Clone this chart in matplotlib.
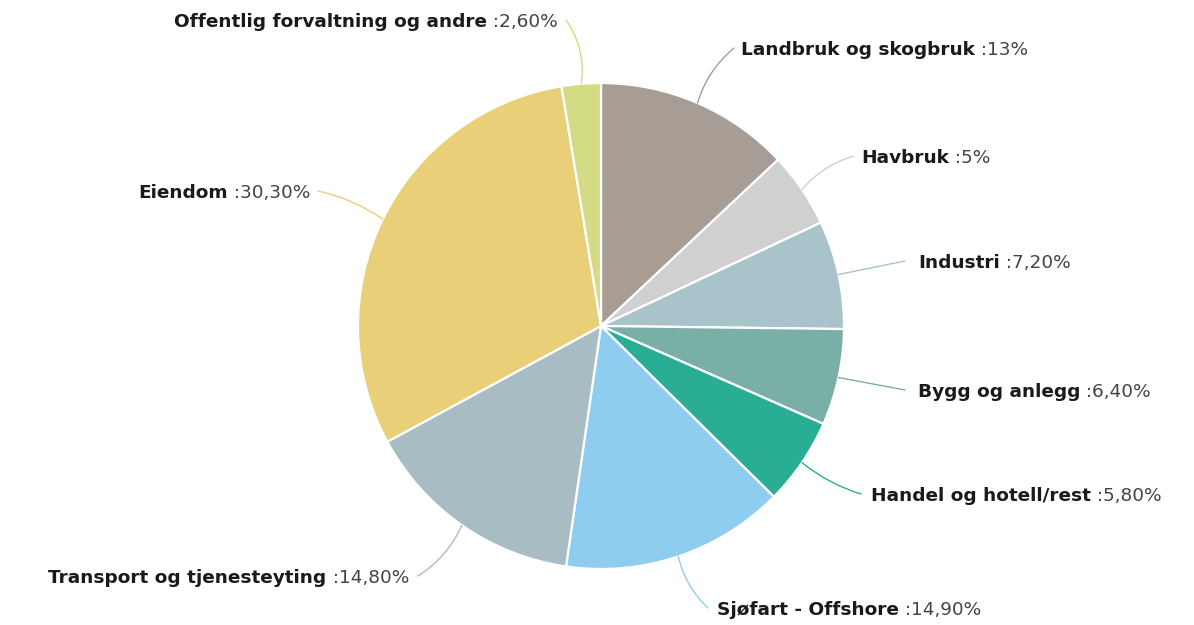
import matplotlib
matplotlib.use("Agg")
import matplotlib.pyplot as plt
import numpy as np

categories = ["Landbruk og skogbruk", "Havbruk", "Industri", "Bygg og anlegg",
              "Handel og hotell/rest", "Sjøfart - Offshore", "Transport og tjenesteyting",
              "Eiendom", "Offentlig forvaltning og andre"]
values = [13, 5, 7.2, 6.4, 5.8, 14.9, 14.8, 30.3, 2.6]
value_labels = ["13%", "5%", "7,20%", "6,40%", "5,80%", "14,90%", "14,80%", "30,30%", "2,60%"]
colors = ["#A89D94", "#D0D0D0", "#A9C3CB", "#7AAFA7", "#2AAD95", "#8FCDF0",
          "#A8BCC3", "#E8CF78", "#D3DB84"]

W, H = 1194, 625
fig = plt.figure(figsize=(W / 100, H / 100), dpi=100)
ax = fig.add_axes([0, 0, 1, 1])

cx, cy, r = 601, H - 326, 243
wedges, _ = ax.pie(values, colors=colors, startangle=90, counterclock=False,
                   center=(cx, cy), radius=r, frame=True,
                   wedgeprops=dict(edgecolor="white", linewidth=1.6))
ax.set_xlim(0, W)
ax.set_ylim(0, H)
ax.set_aspect("equal")
ax.axis("off")

FS = 13.3
# label layout (pixel positions: text anchor x, text center y, side, connector end x, rad)
layout = [
    (741, 50, "right", 734, 0.15),
    (861, 158, "right", 854, 0.15),
    (918, 263, "right", 905, 0.0),
    (918, 392, "right", 905, 0.0),
    (871, 496, "right", 861, -0.1),
    (717, 610, "right", 708, -0.15),
    (409, 578, "left", 418, 0.15),
    (310, 193, "left", 318, -0.1),
    (558, 22, "left", 566, -0.2),
]

for w, name, val, col, (tx, ty, side, lx, rad) in zip(wedges, categories, value_labels, colors, layout):
    ang = np.deg2rad((w.theta1 + w.theta2) / 2)
    px = cx + r * np.cos(ang)
    py = cy + r * np.sin(ang)
    y = H - ty
    ax.annotate("", xy=(px, py), xytext=(lx, y + 2),
                arrowprops=dict(arrowstyle="-", color=col, lw=1.0,
                                connectionstyle=f"arc3,rad={rad}", shrinkA=0, shrinkB=0))
    if side == "right":
        t1 = ax.text(tx, y, name, ha="left", va="center", fontsize=FS,
                     fontweight="bold", color="#1a1a1a", family="DejaVu Sans")
        ax.annotate(" :" + val, xy=(1, 0.5), xycoords=t1, ha="left", va="center",
                    fontsize=FS, color="#444444", family="DejaVu Sans")
    else:
        t2 = ax.text(tx, y, " :" + val, ha="right", va="center", fontsize=FS,
                     color="#444444", family="DejaVu Sans")
        ax.annotate(name, xy=(0, 0.5), xycoords=t2, ha="right", va="center",
                    fontsize=FS, fontweight="bold", color="#1a1a1a", family="DejaVu Sans")

fig.savefig("out.png", dpi=100, facecolor="white")
